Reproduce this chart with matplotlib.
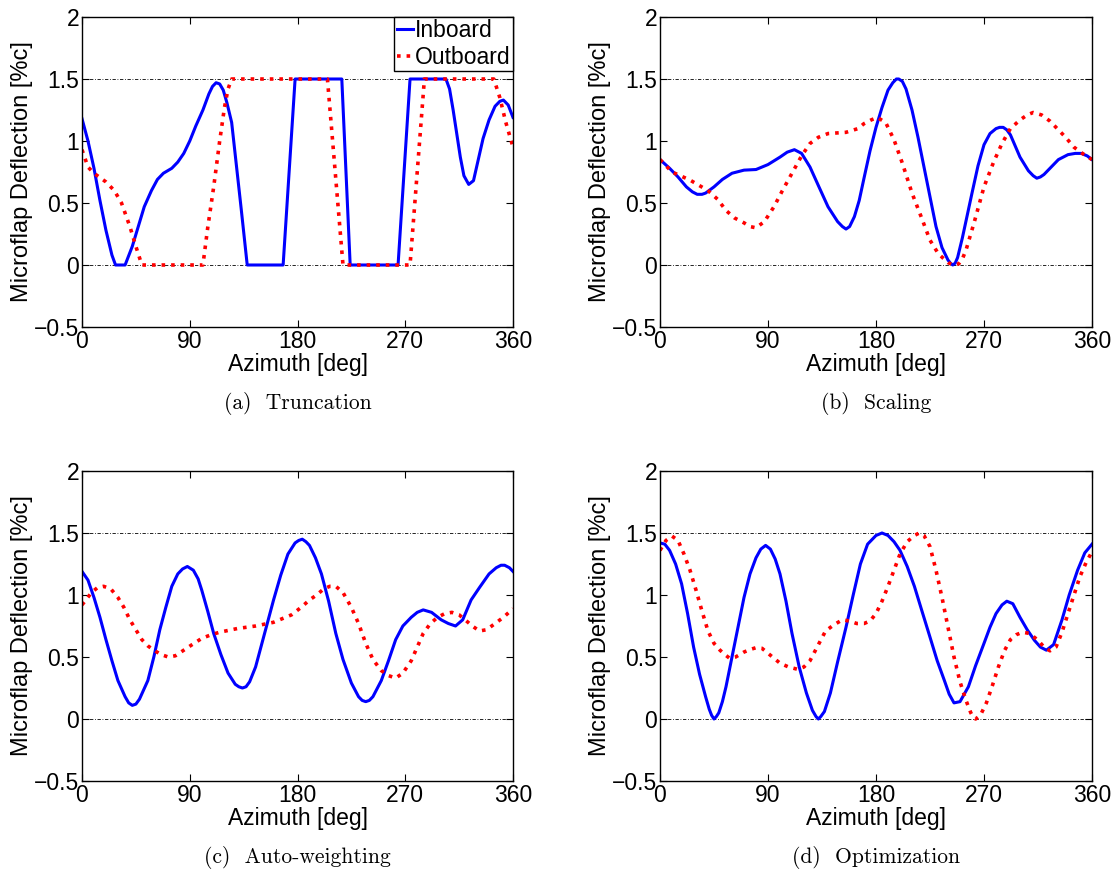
import numpy as np
import matplotlib
matplotlib.use('Agg')
import matplotlib.pyplot as plt

# values: (azimuth deg, deflection %c)
a_in_x = [0, 5, 10, 15, 20, 25, 28, 36, 42, 47, 52, 58, 63, 68, 75, 80, 85, 90, 95, 101, 106, 109, 112, 115, 118, 121, 125, 129, 133, 138,
          168, 178, 217, 224, 264, 274, 304, 307, 310, 313, 316, 319, 323, 327, 331, 335, 340, 345, 349, 352, 356, 360]
a_in_y = [1.18, 1.0, 0.78, 0.52, 0.28, 0.08, 0.0, 0.0, 0.15, 0.31, 0.47, 0.6, 0.69, 0.74, 0.78, 0.83, 0.9, 1.0, 1.12, 1.25, 1.38, 1.44, 1.47, 1.46, 1.41, 1.31, 1.15, 0.8, 0.45, 0.0,
          0.0, 1.5, 1.5, 0.0, 0.0, 1.5, 1.5, 1.42, 1.25, 1.06, 0.87, 0.72, 0.65, 0.68, 0.85, 1.02, 1.17, 1.28, 1.32, 1.33, 1.29, 1.19]
a_out_x = [0, 5, 10, 20, 27, 33, 40, 45, 50, 101, 105, 110, 115, 119, 122, 125, 205, 218, 274, 286, 344, 349, 354, 360]
a_out_y = [0.93, 0.79, 0.74, 0.67, 0.60, 0.50, 0.31, 0.15, 0.0, 0.0, 0.3, 0.63, 1.0, 1.27, 1.42, 1.5, 1.5, 0.0, 0.0, 1.5, 1.5, 1.35, 1.15, 0.95]

b_in_x = [0, 8, 15, 22, 27, 31, 35, 38, 45, 52, 60, 70, 80, 90, 100, 106, 112, 118, 125, 132, 140, 148, 152, 155, 158, 162, 166, 170, 175, 180, 185, 190, 194, 197, 199,
          202, 205, 210, 215, 220, 225, 230, 235, 240, 242, 244, 246, 248, 252, 256, 260, 265, 270, 275, 280, 283, 286, 289, 292, 300, 307, 311, 314, 317, 320, 325, 332, 340, 346, 351, 356, 360]
b_in_y = [0.85, 0.78, 0.71, 0.63, 0.59, 0.57, 0.57, 0.58, 0.63, 0.69, 0.74, 0.765, 0.77, 0.81, 0.87, 0.91, 0.93, 0.9, 0.79, 0.64, 0.47, 0.35, 0.31, 0.29, 0.31, 0.39, 0.52, 0.7, 0.92, 1.11, 1.27, 1.41, 1.47, 1.5, 1.5,
          1.48, 1.42, 1.25, 1.03, 0.79, 0.55, 0.31, 0.14, 0.04, 0.015, 0.0, 0.015, 0.06, 0.22, 0.4, 0.58, 0.8, 0.97, 1.06, 1.1, 1.11, 1.11, 1.09, 1.05, 0.87, 0.76, 0.72, 0.70, 0.71, 0.73, 0.78, 0.85, 0.89, 0.90, 0.90, 0.88, 0.85]
b_out_x = [0, 10, 25, 40, 48, 55, 62, 70, 75, 80, 87, 95, 102, 110, 118, 125, 132, 140, 155, 165, 170, 176, 181, 188, 195, 202, 210, 218, 225, 232, 240, 243, 246,
           249, 252, 255, 262, 270, 278, 285, 292, 300, 306, 311, 318, 325, 330, 338, 345, 352, 360]
b_out_y = [0.85, 0.75, 0.685, 0.6, 0.53, 0.44, 0.38, 0.34, 0.31, 0.30, 0.35, 0.47, 0.6, 0.74, 0.88, 0.98, 1.03, 1.06, 1.07, 1.1, 1.14, 1.17, 1.19, 1.15, 1.01, 0.82, 0.58, 0.38, 0.20, 0.09, 0.02, 0.005, 0.0,
           0.01, 0.05, 0.12, 0.35, 0.63, 0.83, 0.98, 1.1, 1.17, 1.21, 1.23, 1.21, 1.16, 1.11, 1.03, 0.95, 0.9, 0.85]

c_in_x = [0, 5, 10, 15, 20, 25, 30, 36, 39, 42, 45, 48, 55, 60, 65, 70, 75, 80, 84, 88, 93, 97, 100, 105, 110, 116, 122, 128, 131, 134, 137, 140, 145, 150, 155, 160, 166, 172,
          178, 181, 184, 187, 190, 195, 200, 206, 212, 218, 225, 231, 234, 237, 240, 243, 250, 256, 262, 268, 275, 280, 285, 292, 300, 306, 312, 318, 325, 332, 340, 346, 350, 353, 357, 360]
c_in_y = [1.19, 1.12, 0.98, 0.82, 0.64, 0.47, 0.31, 0.18, 0.13, 0.11, 0.12, 0.16, 0.31, 0.5, 0.72, 0.9, 1.07, 1.17, 1.21, 1.23, 1.2, 1.13, 1.04, 0.87, 0.69, 0.52, 0.37, 0.28, 0.26, 0.25, 0.26, 0.3, 0.42, 0.6, 0.78, 0.96, 1.16, 1.33,
          1.42, 1.44, 1.45, 1.43, 1.4, 1.3, 1.17, 0.95, 0.69, 0.48, 0.29, 0.18, 0.15, 0.14, 0.15, 0.18, 0.31, 0.47, 0.64, 0.75, 0.82, 0.86, 0.88, 0.86, 0.80, 0.77, 0.75, 0.8, 0.96, 1.06, 1.17, 1.22, 1.24, 1.24, 1.22, 1.19]
c_out_x = [0, 8, 13, 18, 24, 30, 35, 40, 45, 50, 55, 60, 66, 72, 78, 85, 92, 100, 108, 115, 130, 145, 160, 175, 183, 190, 196, 202, 207, 212, 218, 225, 231,
           237, 243, 250, 256, 262, 268, 275, 280, 285, 291, 297, 303, 309, 315, 320, 326, 332, 338, 345, 352, 360]
c_out_y = [0.92, 1.02, 1.06, 1.07, 1.05, 0.98, 0.9, 0.8, 0.72, 0.64, 0.59, 0.555, 0.52, 0.5, 0.51, 0.555, 0.6, 0.65, 0.68, 0.70, 0.73, 0.75, 0.78, 0.84, 0.9, 0.96, 1.0, 1.05, 1.07, 1.07, 1.02, 0.9, 0.77,
           0.61, 0.48, 0.39, 0.35, 0.33, 0.37, 0.47, 0.58, 0.69, 0.77, 0.82, 0.85, 0.86, 0.84, 0.80, 0.75, 0.71, 0.72, 0.77, 0.82, 0.89]

d_in_x = [0, 4, 8, 13, 18, 23, 28, 33, 38, 41, 43, 45, 47, 49, 52, 55, 60, 65, 70, 75, 80, 84, 88, 92, 96, 100, 105, 110, 116, 122, 127, 130, 132, 134, 137, 142, 148, 155, 161, 167,
          173, 180, 185, 190, 195, 200, 206, 212, 218, 225, 231, 237, 241, 245, 250, 257, 263, 270, 275, 280, 285, 289, 294, 300, 306, 312, 317, 322, 328, 335, 341, 348, 354, 360]
d_in_y = [1.42, 1.41, 1.36, 1.25, 1.09, 0.85, 0.58, 0.36, 0.18, 0.08, 0.03, 0.0, 0.02, 0.05, 0.14, 0.26, 0.5, 0.74, 0.98, 1.17, 1.3, 1.37, 1.40, 1.37, 1.29, 1.17, 0.95, 0.69, 0.42, 0.21, 0.07, 0.02, 0.0, 0.02, 0.06, 0.21, 0.46, 0.74, 1.0, 1.25,
          1.41, 1.48, 1.5, 1.48, 1.43, 1.36, 1.23, 1.07, 0.88, 0.66, 0.47, 0.31, 0.2, 0.13, 0.14, 0.26, 0.43, 0.61, 0.74, 0.85, 0.92, 0.95, 0.93, 0.82, 0.72, 0.635, 0.58, 0.555, 0.6, 0.8, 1.0, 1.2, 1.34, 1.41]
d_out_x = [0, 5, 10, 15, 20, 25, 30, 35, 40, 45, 50, 54, 58, 63, 70, 75, 80, 85, 90, 95, 100, 107, 115, 120, 125, 132, 138, 145, 152, 158, 164, 170, 175,
           180, 185, 190, 195, 200, 206, 212, 216, 220, 225, 230, 235, 240, 245, 250, 255, 259, 261, 263, 265, 268, 272, 277, 282, 287, 292, 297, 302, 308, 315, 320, 325, 330, 335, 340, 345, 350, 355, 360]
d_out_y = [1.36, 1.44, 1.475, 1.44, 1.33, 1.2, 1.04, 0.87, 0.71, 0.61, 0.555, 0.52, 0.49, 0.5, 0.54, 0.56, 0.575, 0.57, 0.53, 0.49, 0.45, 0.42, 0.40, 0.42, 0.47, 0.6, 0.71, 0.76, 0.80, 0.79, 0.77, 0.77, 0.79,
           0.85, 0.95, 1.07, 1.2, 1.33, 1.43, 1.48, 1.5, 1.48, 1.39, 1.2, 0.98, 0.74, 0.50, 0.3, 0.15, 0.05, 0.015, 0.0, 0.015, 0.05, 0.13, 0.27, 0.42, 0.55, 0.64, 0.68, 0.70, 0.69, 0.635, 0.58, 0.55, 0.58, 0.7, 0.85, 1.0, 1.15, 1.26, 1.35]

captions = ['(a)  Truncation', '(b)  Scaling', '(c)  Auto-weighting', '(d)  Optimization']
series = [(a_in_x, a_in_y, a_out_x, a_out_y),
          (b_in_x, b_in_y, b_out_x, b_out_y),
          (c_in_x, c_in_y, c_out_x, c_out_y),
          (d_in_x, d_in_y, d_out_x, d_out_y)]
limits = [0, 1.5]

plt.rcParams['font.family'] = ['Liberation Sans', 'DejaVu Sans']

W, H = 1115, 871
fig = plt.figure(figsize=(W / 100, H / 100), dpi=100)
# axes boxes in pixels: left, right, top, bottom
boxes = [(82, 513, 17, 327), (660, 1092, 17, 327), (82, 513, 471, 781), (660, 1092, 471, 781)]
cap_y = [403, 403, 857, 857]
fs = 16.5

for i, (box, s) in enumerate(zip(boxes, series)):
    l, r, t, b = box
    ax = fig.add_axes([l / W, 1 - b / H, (r - l) / W, (b - t) / H])
    for yv in limits:
        ax.axhline(yv, color='black', linestyle='-.', linewidth=0.6, dashes=(4, 2, 1, 2))
    ax.plot(s[0], s[1], color='blue', linewidth=2.2, label='Inboard')
    ax.plot(s[2], s[3], color='red', linestyle=':', linewidth=2.6, label='Outboard')
    ax.set_xlim(0, 360)
    ax.set_ylim(-0.5, 2)
    ax.set_xticks([0, 90, 180, 270, 360])
    ax.set_yticks([-0.5, 0, 0.5, 1, 1.5, 2])
    ax.set_yticklabels(['\u22120.5', '0', '0.5', '1', '1.5', '2'])
    ax.tick_params(direction='in', top=True, right=True, length=5, labelsize=fs, pad=2)
    ax.set_xlabel('Azimuth [deg]', fontsize=fs, labelpad=0)
    ax.set_ylabel('Microflap Deflection [%c]', fontsize=17, labelpad=1)
    for sp in ax.spines.values():
        sp.set_linewidth(1.0)
    if i == 0:
        leg = ax.legend(loc='upper right', fontsize=fs, handlelength=0.7, handletextpad=0.1,
                        borderaxespad=0.0, borderpad=0.1, labelspacing=0.15, fancybox=False,
                        edgecolor='black', framealpha=1)
        leg.get_frame().set_linewidth(1.0)
    cx = (l + r) / 2 / W
    fig.text(cx, 1 - cap_y[i] / H, captions[i], ha='center', va='center', fontsize=15.5, family='cmr10')

fig.savefig('out.png', dpi=100)
